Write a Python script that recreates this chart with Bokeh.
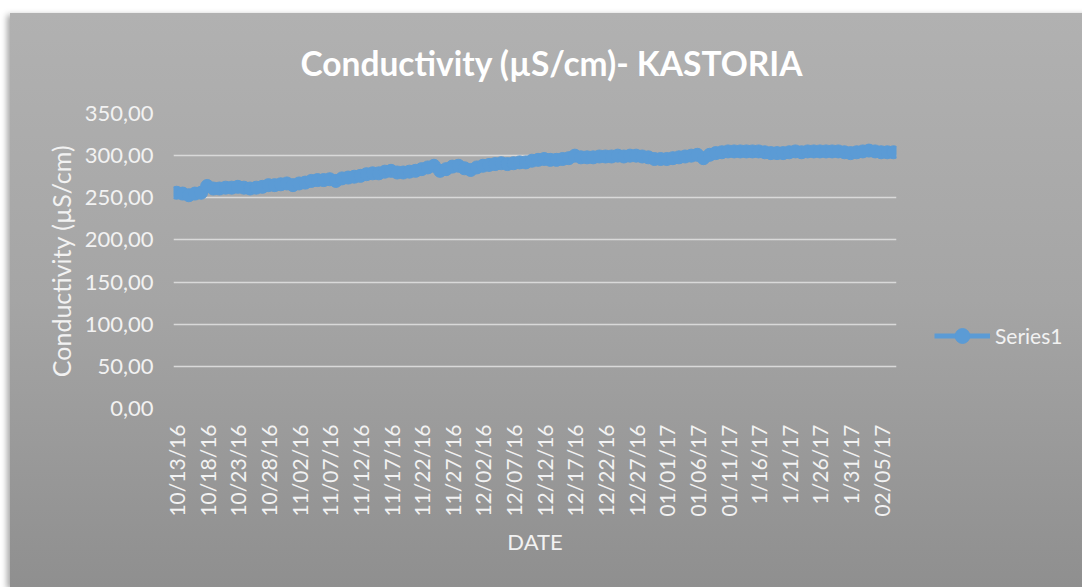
from math import pi
from bokeh.plotting import figure
from bokeh.models import Range1d, FixedTicker, Legend, LegendItem, Title
from bokeh.embed import file_html
from bokeh.resources import INLINE

# Daily conductivity readings (µS/cm), 10/13/16 onward
values = [
    256, 255, 253, 255, 256, 264, 261, 261, 262, 262,
    263, 262, 261, 262, 263, 265, 265, 266, 267, 265,
    267, 268, 270, 271, 271, 272, 270, 273, 274, 275,
    276, 278, 279, 279, 281, 282, 280, 280, 281, 282,
    284, 286, 288, 282, 284, 287, 288, 285, 283, 286,
    288, 289, 290, 291, 290, 291, 292, 292, 294, 295,
    296, 295, 295, 296, 297, 300, 298, 298, 298, 299,
    299, 299, 300, 299, 300, 300, 299, 298, 296, 296,
    296, 297, 298, 299, 300, 301, 297, 301, 303, 304,
    305, 305, 305, 305, 305, 305, 304, 303, 303, 303,
    304, 305, 304, 305, 305, 305, 305, 305, 305, 304,
    303, 304, 305, 306, 305, 304, 304, 304,
]

x_tick_labels = [
    "10/13/16", "10/18/16", "10/23/16", "10/28/16", "11/02/16", "11/07/16",
    "11/12/16", "11/17/16", "11/22/16", "11/27/16", "12/02/16", "12/07/16",
    "12/12/16", "12/17/16", "12/22/16", "12/27/16", "01/01/17", "01/06/17",
    "01/11/17", "1/16/17", "1/21/17", "1/26/17", "1/31/17", "02/05/17",
]
label_step = 5

y_ticks = [0, 50, 100, 150, 200, 250, 300, 350]
y_tick_labels = ["0,00", "50,00", "100,00", "150,00", "200,00", "250,00", "300,00", "350,00"]

title_text = "Conductivity (\u00b5S/cm)- KASTORIA"
y_title = "Conductivity (\u00b5S/cm)"
x_title = "DATE"
series_name = "Series1"

FONT = "Lato"
LABEL_COLOR = "#f2f2f2"
LINE_COLOR = "#5b9bd5"

idx = list(range(len(values)))
x_ticks = [i * label_step for i in range(len(x_tick_labels))]

p = figure(
    frame_width=723, frame_height=295,
    output_backend="svg", toolbar_location=None,
    x_range=Range1d(-0.5, len(values) - 0.5),
    y_range=Range1d(0, 350),
    min_border_left=163, min_border_right=186,
    min_border_top=100, min_border_bottom=179,
    title=None,
)
p.margin = (13, 0, 0, 10)
p.styles = {
    "background": "linear-gradient(180deg, #b1b1b1 0%, #a5a5a5 50%, #8f8f8f 100%)",
    "box-shadow": "-3px 2px 6px rgba(0,0,0,0.35)",
}
p.border_fill_alpha = 0
p.background_fill_alpha = 0
p.outline_line_color = None

t = Title(text=title_text, align="left", vertical_align="top", text_font=FONT,
          text_font_size="33.5px", text_font_style="bold", text_color="#ffffff",
          standoff=58, offset=127)
p.add_layout(t, "above")

# grid
p.xgrid.visible = False
p.ygrid.grid_line_color = "#d9d9d9"
p.ygrid.grid_line_width = 1.3
p.ygrid.ticker = FixedTicker(ticks=y_ticks)

# y axis
p.yaxis.ticker = FixedTicker(ticks=y_ticks)
p.yaxis.major_label_overrides = {t_: l for t_, l in zip(y_ticks, y_tick_labels)}
p.yaxis.axis_label = y_title
# x axis
p.xaxis.ticker = FixedTicker(ticks=x_ticks)
p.xaxis.major_label_overrides = {t_: l for t_, l in zip(x_ticks, x_tick_labels)}
p.xaxis.major_label_orientation = pi / 2
p.xaxis.axis_label = x_title

for ax in (p.xaxis[0], p.yaxis[0]):
    ax.axis_line_color = None
    ax.major_tick_line_color = None
    ax.minor_tick_line_color = None
    ax.major_label_text_font = FONT
    ax.major_label_text_color = LABEL_COLOR
    ax.axis_label_text_font = FONT
    ax.axis_label_text_font_style = "normal"
    ax.axis_label_text_color = LABEL_COLOR
p.yaxis.major_label_text_font_size = "22px"
p.xaxis.major_label_text_font_size = "21px"
p.yaxis.axis_label_text_font_size = "25px"
p.xaxis.axis_label_text_font_size = "22px"
p.yaxis.major_label_standoff = 14
p.yaxis.axis_label_standoff = 6
p.xaxis.major_label_standoff = 10
p.xaxis.axis_label_standoff = 8

ln = p.line(idx, values, line_color=LINE_COLOR, line_width=5)
sc = p.scatter(idx, values, size=13, fill_color=LINE_COLOR, line_color=LINE_COLOR)

legend = Legend(
    items=[LegendItem(label=series_name, renderers=[ln, sc])],
    location=(38, 54),
    background_fill_alpha=0, border_line_alpha=0,
    label_text_font=FONT, label_text_font_size="21px", label_text_color=LABEL_COLOR,
    glyph_width=56, glyph_height=37, padding=0, margin=0, label_standoff=5,
)
p.add_layout(legend, "right")

with open("out.html", "w") as f:
    f.write(file_html(p, INLINE))
